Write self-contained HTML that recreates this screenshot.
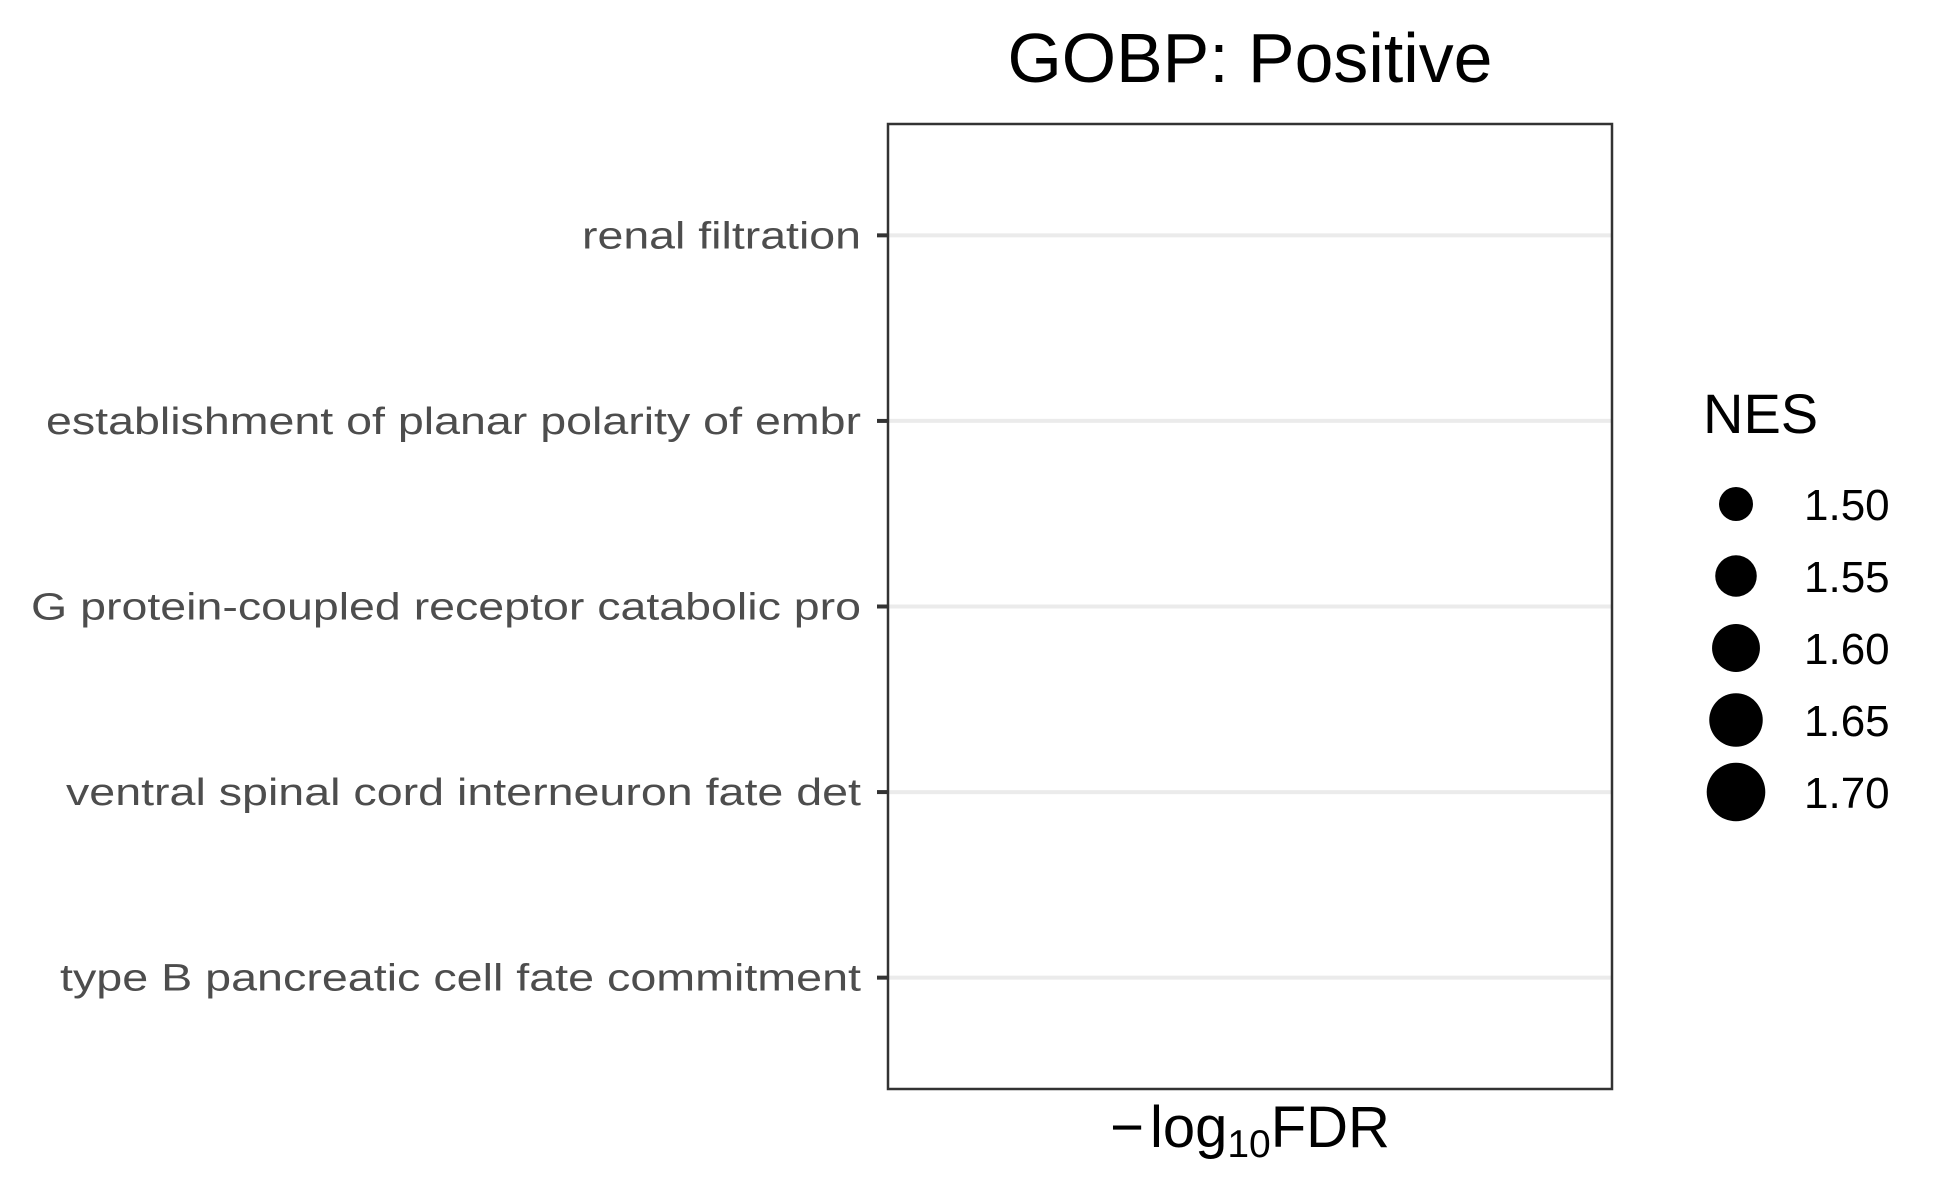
<!DOCTYPE html>
<html><head><meta charset="utf-8"><style>
html,body{margin:0;padding:0;background:#fff;}
svg{display:block;font-family:"Liberation Sans",Arial,sans-serif;}
</style></head><body>
<svg id="chart" width="1950" height="1200" viewBox="0 0 1950 1200">
<rect x="0" y="0" width="1950" height="1200" fill="#fff"/>
<text x="1250" y="82" text-anchor="middle" font-size="70" textLength="485" lengthAdjust="spacingAndGlyphs" fill="#000">GOBP: Positive</text>
<g id="grid"></g>
<g id="ylabels"></g>
<rect x="888" y="124" width="724" height="965" fill="none" stroke="#333" stroke-width="2.5"/>
<text x="1250" y="1147" text-anchor="middle" font-size="58" fill="#000">−<tspan dx="6">log</tspan><tspan font-size="39" dy="10">10</tspan><tspan dy="-10">FDR</tspan></text>
<text x="1703" y="433" font-size="56" fill="#000">NES</text>
<g id="legend"></g>
</svg>
<script>
const categories = ["renal filtration","establishment of planar polarity of embr","G protein-coupled receptor catabolic pro","ventral spinal cord interneuron fate det","type B pancreatic cell fate commitment"];
const legendBreaks = [1.50,1.55,1.60,1.65,1.70];
const legendLabels = ["1.50","1.55","1.60","1.65","1.70"];
const labelWidths = [279,815,830,795,801];

const NS="http://www.w3.org/2000/svg";
const pTop=124,pBottom=1089,pLeft=888,pRight=1612;
const nCat=categories.length;
const step=(pBottom-pTop)/(nCat-1+1.2);
function yScale(i){return pTop+0.6*step+i*step;}
function rScale(v){return Math.sqrt(289+(v-1.5)*2845);}
const grid=document.getElementById('grid'), yl=document.getElementById('ylabels'), lg=document.getElementById('legend');
categories.forEach((c,i)=>{
  const y=yScale(i);
  const g=document.createElementNS(NS,'line');
  g.setAttribute('x1',pLeft);g.setAttribute('x2',pRight);g.setAttribute('y1',y);g.setAttribute('y2',y);
  g.setAttribute('stroke','#ebebeb');g.setAttribute('stroke-width','4');
  
  
  grid.appendChild(g);
  const t=document.createElementNS(NS,'line');
  t.setAttribute('x1',pLeft-11);t.setAttribute('x2',pLeft);t.setAttribute('y1',y);t.setAttribute('y2',y);
  t.setAttribute('stroke','#333');t.setAttribute('stroke-width','4');
  
  
  yl.appendChild(t);
  const tx=document.createElementNS(NS,'text');
  tx.setAttribute('x',861);tx.setAttribute('y',y+13);tx.setAttribute('text-anchor','end');
  tx.setAttribute('font-size','38');tx.setAttribute('fill','#4d4d4d');
  tx.setAttribute('textLength',labelWidths[i]);tx.setAttribute('lengthAdjust','spacingAndGlyphs');
  tx.textContent=c;
  
  
  yl.appendChild(tx);
});
legendBreaks.forEach((v,i)=>{
  const cy=504+i*72;
  const ci=document.createElementNS(NS,'circle');
  ci.setAttribute('cx',1736);ci.setAttribute('cy',cy);ci.setAttribute('r',rScale(v));ci.setAttribute('fill','#000');
  
  
  lg.appendChild(ci);
  const tx=document.createElementNS(NS,'text');
  tx.setAttribute('x',1804);tx.setAttribute('y',cy+16);tx.setAttribute('font-size','44');tx.setAttribute('fill','#000');
  tx.textContent=legendLabels[i];
  
  
  lg.appendChild(tx);
});
</script>
</body></html>
